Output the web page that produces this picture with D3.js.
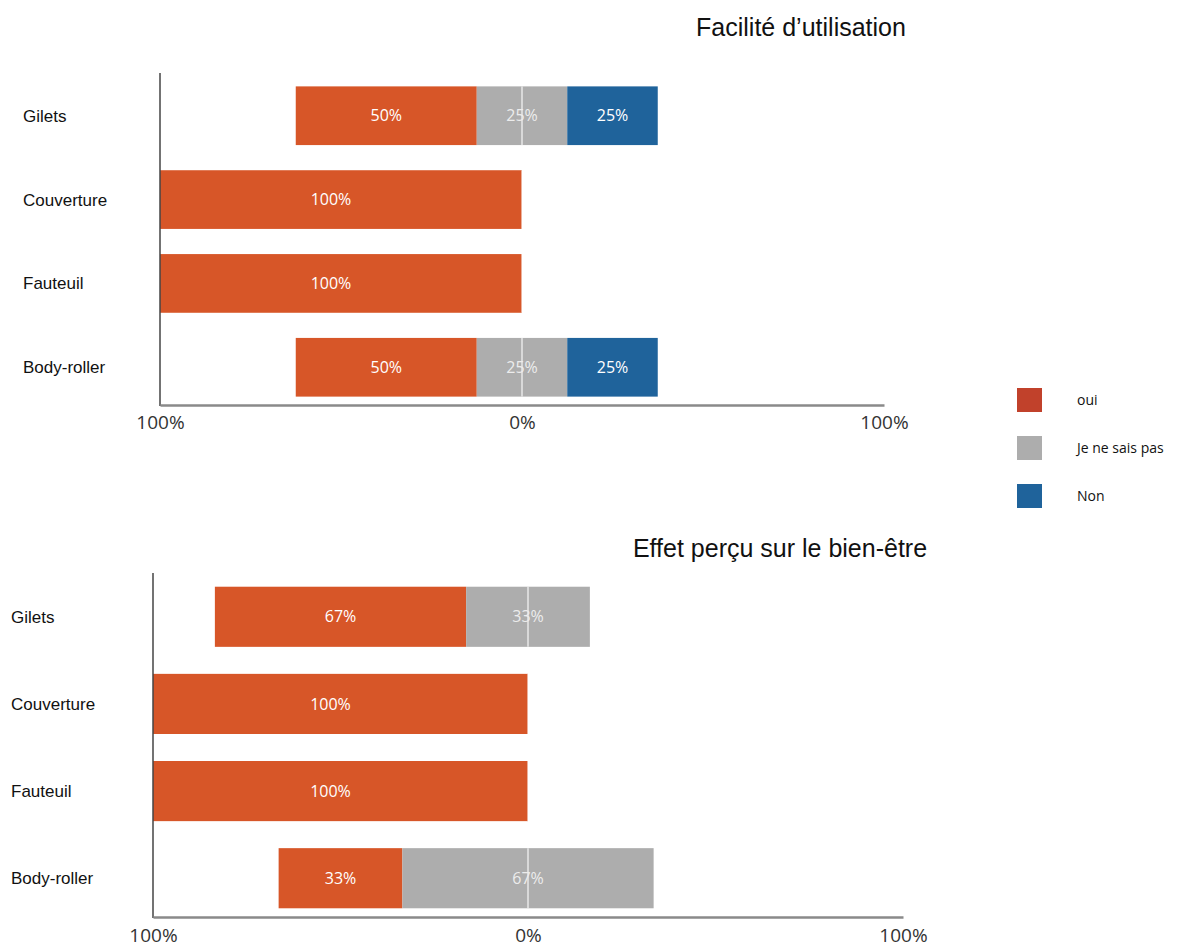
<!DOCTYPE html>
<html>
<head>
  <meta charset="utf-8">
  <script src="https://cdn.jsdelivr.net/npm/d3@7"></script>
  <style>
    body { margin: 0; background: #fff; }
  </style>
</head>
<body>
<script>
  // data
  var categories = ["Gilets", "Couverture", "Fauteuil", "Body-roller"];
  var seriesNames = ["oui", "Je ne sais pas", "Non"];
  var seriesColors = ["#d75628", "#adadad", "#1f639b"];
  var legendColors = ["#c1412b", "#adadad", "#1f639b"];
  var tickValues = [-100, 0, 100];

  var facilite = { oui: [50, 100, 100, 50], nsp: [25, 0, 0, 25], non: [25, 0, 0, 25] };
  var bienEtre = { oui: [67, 100, 100, 33], nsp: [33, 0, 0, 67], non: [0, 0, 0, 0] };

  var W = 1186, H = 947;
  var svg = d3.select("body").append("svg").attr("width", W).attr("height", H);

  function drawPanel(d, opt) {
    var g = svg.append("g");
    var x = d3.scaleLinear().domain([-100, 100]).range([opt.x0, opt.x1]);
    var y = d3.scaleBand().domain(categories).range([opt.y0, opt.y1])
      .paddingInner(opt.pi).paddingOuter(0.1);

    // stack: oui to the left, "ne sais pas" centred on 0, non to the right
    var rows = categories.map(function(c, i) {
      var o = d.oui[i], n = d.nsp[i], no = d.non[i];
      var segs = [];
      var left = -(o + n / 2);
      segs.push({ k: 0, a: left, b: left + o, v: o });
      segs.push({ k: 1, a: -n / 2, b: n / 2, v: n });
      segs.push({ k: 2, a: n / 2, b: n / 2 + no, v: no });
      return { cat: c, segs: segs.filter(function(s) { return s.v > 0; }) };
    });

    var row = g.selectAll(".row").data(rows).enter().append("g")
      .attr("transform", function(r) { return "translate(0," + y(r.cat) + ")"; });

    row.selectAll("rect").data(function(r) { return r.segs; }).enter().append("rect")
      .attr("x", function(s) { return x(s.a); })
      .attr("width", function(s) { return x(s.b) - x(s.a); })
      .attr("height", y.bandwidth())
      .attr("fill", function(s) { return seriesColors[s.k]; });

    // thin white line at 0%
    row.append("line")
      .attr("x1", x(0)).attr("x2", x(0))
      .attr("y1", 0).attr("y2", y.bandwidth())
      .attr("stroke", "#fff").attr("stroke-width", 1.2).attr("opacity", 0.9);

    row.selectAll("text").data(function(r) { return r.segs; }).enter().append("text")
      .attr("x", function(s) {
        // full bars have their label a bit left of centre, as in the original
        var m = (x(s.a) + x(s.b)) / 2;
        return s.v == 100 ? m - 10 : m;
      })
      .attr("y", y.bandwidth() / 2)
      .attr("dy", "0.35em")
      .attr("text-anchor", "middle")
      .attr("fill", function(s) { return s.k == 1 ? "#ececec" : "#fff"; })
      .style("font-family", "'Open Sans', 'Noto Sans', sans-serif")
      .style("font-size", "16px")
      .text(function(s) { return s.v + "%"; });

    // category labels
    g.selectAll(".cat").data(categories).enter().append("text")
      .attr("x", opt.labelX)
      .attr("y", function(c) { return y(c) + y.bandwidth() / 2; })
      .attr("dy", "0.35em")
      .attr("fill", "#111")
      .style("font-family", "'Liberation Sans Narrow', 'Arial Narrow', sans-serif")
      .style("font-size", "17px")
      .text(function(c) { return c; });

    // y axis line
    g.append("line")
      .attr("x1", opt.x0).attr("x2", opt.x0)
      .attr("y1", opt.axisTop).attr("y2", opt.y1 + 1)
      .attr("stroke", "#444").attr("stroke-width", 1.5);

    // x axis
    var ax = g.append("g")
      .attr("transform", "translate(0," + opt.y1 + ")")
      .call(d3.axisBottom(x).tickValues(tickValues).tickSize(0)
        .tickFormat(function(v) { return Math.abs(v) + "%"; }));
    ax.select(".domain").attr("stroke", "#8a8a8a").attr("stroke-width", 2.5);
    ax.selectAll("text")
      .attr("y", opt.tickDy)
      .attr("dy", "0.35em")
      .attr("fill", "#333")
      .style("font-family", "'Open Sans', 'Noto Sans', sans-serif")
      .style("font-size", "19px");

    svg.append("text")
      .attr("x", opt.titleX).attr("y", opt.titleY)
      .attr("text-anchor", "middle")
      .attr("fill", "#111")
      .style("font-family", "'Liberation Sans', Arial, sans-serif")
      .style("font-size", "25px")
      .text(opt.title);
  }

  drawPanel(facilite, {
    x0: 160, x1: 884, y0: 78, y1: 405, pi: 0.3, axisTop: 73, tickDy: 17,
    labelX: 23, title: "Facilité d’utilisation", titleX: 801, titleY: 36
  });

  drawPanel(bienEtre, {
    x0: 153, x1: 903, y0: 578, y1: 917, pi: 0.31, axisTop: 573, tickDy: 18,
    labelX: 11, title: "Effet perçu sur le bien-être", titleX: 780, titleY: 557
  });

  // legend
  var leg = svg.append("g").attr("transform", "translate(1017,388)");
  var li = leg.selectAll("g").data(seriesNames).enter().append("g")
    .attr("transform", function(s, i) { return "translate(0," + i * 48 + ")"; });
  li.append("rect").attr("width", 25).attr("height", 24)
    .attr("fill", function(s, i) { return legendColors[i]; });
  li.append("text").attr("x", 60).attr("y", 12).attr("dy", "0.35em")
    .attr("fill", "#111")
    .style("font-family", "'Open Sans', 'Noto Sans', sans-serif")
    .style("font-size", "14px")
    .text(function(s) { return s; });
</script>
</body>
</html>
